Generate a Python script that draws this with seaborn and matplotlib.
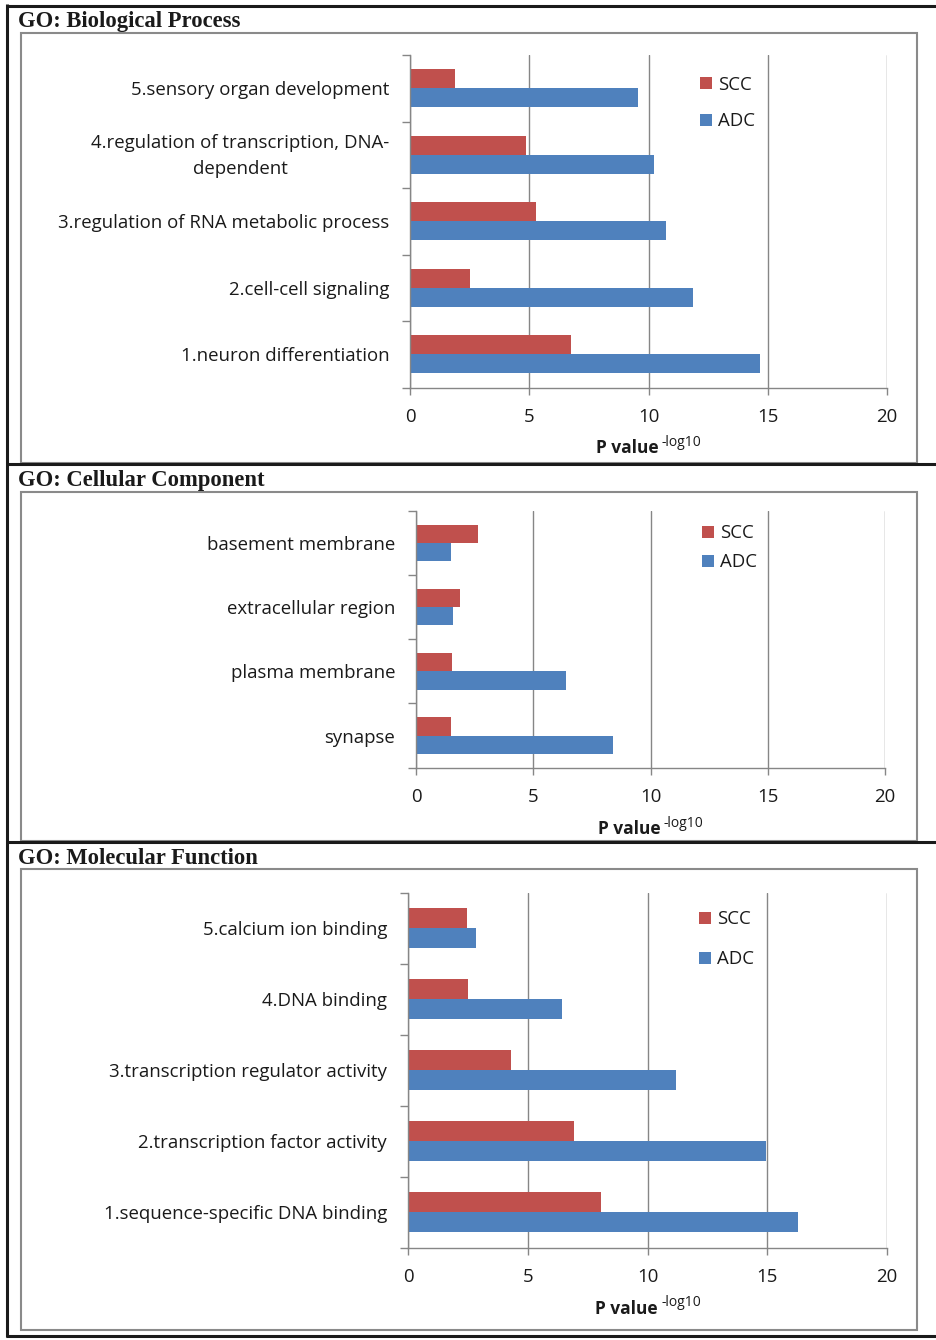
import numpy as np
import pandas as pd
import matplotlib
matplotlib.use("Agg")
import matplotlib.pyplot as plt
from matplotlib.lines import Line2D
from matplotlib.patches import Patch, Rectangle
from matplotlib.transforms import ScaledTranslation
import seaborn as sns

# ---- data: -log10 P values per GO term ----
series = ["SCC", "ADC"]

bp_terms = ["5.sensory organ development",
            "4.regulation of transcription, DNA-\ndependent",
            "3.regulation of RNA metabolic process",
            "2.cell-cell signaling",
            "1.neuron differentiation"]
bp_scc = [1.87, 4.86, 5.28, 2.51, 6.75]
bp_adc = [9.55, 10.25, 10.72, 11.88, 14.68]

cc_terms = ["basement membrane", "extracellular region", "plasma membrane", "synapse"]
cc_scc = [2.64, 1.89, 1.54, 1.49]
cc_adc = [1.49, 1.57, 6.39, 8.41]

mf_terms = ["5.calcium ion binding", "4.DNA binding",
            "3.transcription regulator activity",
            "2.transcription factor activity",
            "1.sequence-specific DNA binding"]
mf_scc = [2.47, 2.51, 4.31, 6.95, 8.06]
mf_adc = [2.86, 6.44, 11.21, 14.94, 16.30]

x_ticks = [0, 5, 10, 15, 20]
headers = ["GO: Biological Process", "GO: Cellular Component", "GO: Molecular Function"]

# ---- style ----
sns.set_style("white")
plt.rcParams["font.family"] = ["Open Sans", "DejaVu Sans"]
RED = "#C0504D"
BLUE = "#4F81BD"
GRID = "#868686"
TXT = "#1a1a1a"
FS = 13.4

W, H = 936, 1340
fig = plt.figure(figsize=(W / 100, H / 100), dpi=100)


def fx(x):
    return x / W


def fy(y):
    return 1 - y / H


def fig_line(x0, y0, x1, y1, color, lw):
    fig.add_artist(Line2D([fx(x0), fx(x1)], [fy(y0), fy(y1)], color=color,
                          lw=lw, transform=fig.transFigure, solid_capstyle="butt"))


def panel(terms, scc, adc, box, legend_pos, spacing):
    left, right, top, bottom = box
    ax = fig.add_axes([fx(left), fy(bottom), fx(right) - fx(left), fy(top) - fy(bottom)])
    df = pd.DataFrame({
        "term": list(terms) * 2,
        "value": list(scc) + list(adc),
        "series": ["SCC"] * len(terms) + ["ADC"] * len(terms),
    })
    sns.barplot(data=df, y="term", x="value", hue="series", order=terms,
                hue_order=series, palette=[RED, BLUE], saturation=1,
                width=0.57, orient="h", linewidth=0, ax=ax, legend=False)
    n = len(terms)
    ax.set_xlim(0, 20)
    ax.set_ylim(n - 0.5, -0.5)
    ax.set_xticks(x_ticks)
    ax.set_xticklabels([str(t) for t in x_ticks])
    ax.set_yticks(np.arange(-0.5, n, 1), minor=True)
    ax.set_xlabel("")
    ax.set_ylabel("")
    ax.set_axisbelow(True)
    ax.xaxis.grid(True, color=GRID, lw=1)
    ax.yaxis.grid(False)
    for s in ["top", "right"]:
        ax.spines[s].set_visible(False)
    for s in ["left", "bottom"]:
        ax.spines[s].set_color(GRID)
        ax.spines[s].set_linewidth(1)
    ax.tick_params(axis="y", which="major", length=0, pad=15, labelsize=FS,
                   labelcolor=TXT)
    ax.tick_params(axis="y", which="minor", length=6, width=1, color=GRID, left=True)
    ax.tick_params(axis="x", which="major", length=5, width=1, color=GRID, bottom=True,
                   pad=9.5, labelsize=FS, labelcolor=TXT)
    for lab in ax.get_yticklabels():
        if "\n" in lab.get_text():
            lab.set_multialignment("center")
            lab.set_linespacing(1.6)
            lab.set_transform(lab.get_transform()
                              + ScaledTranslation(0, 5 / 100, fig.dpi_scale_trans))

    # axis title with superscript
    cx = (left + right) / 2
    fig.text(fx(cx + 10.5), fy(bottom + 66), "P value", ha="right", va="baseline",
             fontsize=12.5, fontweight="bold", color=TXT)
    fig.text(fx(cx + 13.5), fy(bottom + 59), "-log10", ha="left", va="baseline",
             fontsize=10, color=TXT)

    # legend
    lx, ly = legend_pos
    handles = [Patch(facecolor=RED, edgecolor="none"), Patch(facecolor=BLUE, edgecolor="none")]
    ax.legend(handles, series, loc="upper left", bbox_to_anchor=(fx(lx), fy(ly)),
              bbox_transform=fig.transFigure, frameon=False, fontsize=FS,
              handlelength=0.65, handleheight=0.65, handletextpad=0.3,
              borderpad=0, borderaxespad=0, labelspacing=spacing, labelcolor=TXT)
    return ax


panel(bp_terms, bp_scc, bp_adc, (410, 887, 55, 387.5), (700, 75.5), 1.01)
panel(cc_terms, cc_scc, cc_adc, (416, 885, 510.7, 767.7), (702, 524.5), 0.58)
panel(mf_terms, mf_scc, mf_adc, (408, 887, 892.7, 1247.5), (699, 910.5), 1.17)

# chart frames
for (x0, y0, x1, y1) in [(20.5, 33, 917, 463), (20.5, 492, 917, 841), (20.5, 869, 917, 1330)]:
    fig.add_artist(Rectangle((fx(x0), fy(y1)), fx(x1) - fx(x0), fy(y0) - fy(y1),
                             transform=fig.transFigure, fill=False,
                             edgecolor="#8a8a8a", lw=1.5))

# table rules
fig_line(7, 4, 7, 1337, TXT, 2.2)
for y in [5.5, 463.5, 842, 1336]:
    fig_line(6, y, W, y, TXT, 2.2)

# section headers
for txt, yb in zip(headers, [27, 486, 864]):
    fig.text(fx(18.5), fy(yb), txt, ha="left", va="baseline", fontsize=16.3,
             fontweight="bold", family=["Liberation Serif", "DejaVu Serif"], color=TXT)

fig.savefig("out.png", dpi=100)
